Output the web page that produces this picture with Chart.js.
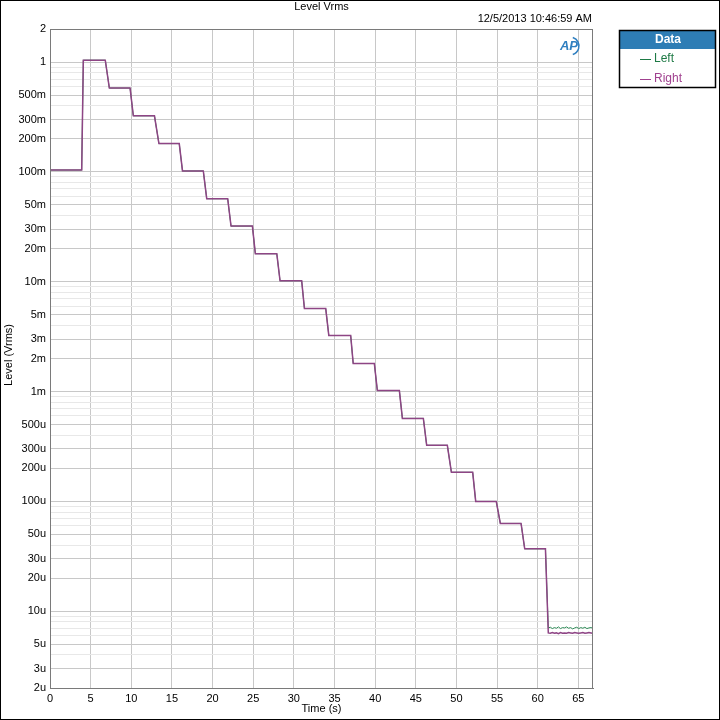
<!DOCTYPE html>
<html>
<head>
<meta charset="utf-8">
<style>
  html, body { margin: 0; padding: 0; background: #fff; }
  #wrap { width: 720px; height: 720px; }
</style>
<script src="https://cdn.jsdelivr.net/npm/chart.js@4.4.1/dist/chart.umd.min.js"></script>
</head>
<body>
<div id="wrap"><canvas id="levelChart" width="720" height="720"></canvas></div>
<script>
'use strict';

// step levels (Vrms)
var stepLevels = [0.104, 1.04, 0.58, 0.324, 0.181, 0.102, 0.057, 0.0321, 0.018, 0.0102,
  0.0057, 0.00324, 0.0018, 0.00102, 5.7e-4, 3.24e-4, 1.84e-4, 1.0e-4, 6.3e-5, 3.7e-5];
// time where each plateau ends, and where the next one is reached
var plateauEnd = [3.9, 6.8, 9.85, 12.85, 15.9, 18.86, 21.86, 24.9, 27.9, 30.96,
  33.92, 36.99, 39.9, 42.98, 45.93, 48.88, 52.0, 54.9, 57.95, 60.95];
var nextReached = [4.1, 7.3, 10.25, 13.4, 16.3, 19.28, 22.27, 25.26, 28.3, 31.3,
  34.3, 37.3, 40.27, 43.35, 46.34, 49.38, 52.37, 55.4, 58.4, 61.3];

// noise floor after the last step
var floorTimes = [61.3, 61.55, 61.8, 62.05, 62.3, 62.55, 62.8, 63.05, 63.3, 63.55, 63.8,
  64.05, 64.3, 64.55, 64.8, 65.05, 65.3, 65.55, 65.8, 66.05, 66.3, 66.55, 66.8];
var floorLeft = [7.05e-6, 7.15e-6, 6.95e-6, 7.1e-6, 7.0e-6, 7.2e-6, 6.95e-6, 7.1e-6, 7.05e-6, 7.2e-6, 7.0e-6,
  7.1e-6, 6.9e-6, 7.05e-6, 7.15e-6, 6.95e-6, 7.1e-6, 7.0e-6, 7.15e-6, 6.95e-6, 7.05e-6, 7.1e-6, 7.0e-6];
var floorRight = [6.35e-6, 6.3e-6, 6.4e-6, 6.3e-6, 6.35e-6, 6.25e-6, 6.4e-6, 6.3e-6, 6.35e-6, 6.3e-6, 6.4e-6,
  6.35e-6, 6.3e-6, 6.4e-6, 6.35e-6, 6.3e-6, 6.35e-6, 6.4e-6, 6.3e-6, 6.35e-6, 6.4e-6, 6.35e-6, 6.3e-6];

var majorTicks = [2, 1, 0.5, 0.3, 0.2, 0.1, 0.05, 0.03, 0.02, 0.01, 0.005, 0.003, 0.002, 0.001,
  5e-4, 3e-4, 2e-4, 1e-4, 5e-5, 3e-5, 2e-5, 1e-5, 5e-6, 3e-6, 2e-6];
var majorLabels = ['2', '1', '500m', '300m', '200m', '100m', '50m', '30m', '20m', '10m', '5m', '3m', '2m', '1m',
  '500u', '300u', '200u', '100u', '50u', '30u', '20u', '10u', '5u', '3u', '2u'];
var xTicks = [0, 5, 10, 15, 20, 25, 30, 35, 40, 45, 50, 55, 60, 65];

var FONT = '"Liberation Sans", Arial, sans-serif';

function buildSeries(floorValues) {
  var pts = [{x: 0, y: stepLevels[0]}];
  for (var i = 0; i < stepLevels.length; i++) {
    pts.push({x: plateauEnd[i], y: stepLevels[i]});
    var next = (i + 1 < stepLevels.length) ? stepLevels[i + 1] : floorValues[0];
    pts.push({x: nextReached[i], y: next});
  }
  for (var j = 1; j < floorTimes.length; j++) {
    pts.push({x: floorTimes[j], y: floorValues[j]});
  }
  return pts;
}

// all 1..9 multiples for the log grid
function logGridValues() {
  var vals = [];
  for (var e = -6; e <= 0; e++) {
    for (var m = 1; m <= 9; m++) {
      var v = parseFloat((m * Math.pow(10, e)).toPrecision(3));
      if (v >= 2e-6 && v <= 2) vals.push(v);
    }
  }
  return vals;
}

function isMajor(v) {
  for (var i = 0; i < majorTicks.length; i++) {
    if (Math.abs(v - majorTicks[i]) / majorTicks[i] < 1e-6) return i;
  }
  return -1;
}

var decorPlugin = {
  id: 'decor',
  afterDraw: function(chart) {
    var ctx = chart.ctx;
    var a = chart.chartArea;
    ctx.save();
    // plot frame
    ctx.strokeStyle = '#7a7a7a';
    ctx.lineWidth = 1;
    ctx.strokeRect(Math.round(a.left) + 0.5, Math.round(a.top) + 0.5,
      Math.round(a.right - a.left) - 1, Math.round(a.bottom - a.top));

    // title and timestamp
    ctx.fillStyle = '#000';
    ctx.font = '11px ' + FONT;
    ctx.textAlign = 'center';
    ctx.textBaseline = 'middle';
    ctx.fillText('Level Vrms', (a.left + a.right) / 2, 7);
    ctx.textAlign = 'right';
    ctx.fillText('12/5/2013 10:46:59 AM', 592, 19);

    // axis titles
    ctx.textAlign = 'center';
    ctx.fillText('Time (s)', (a.left + a.right) / 2, 709);
    ctx.save();
    ctx.translate(9, 355);
    ctx.rotate(-Math.PI / 2);
    ctx.fillText('Level (Vrms)', 0, 0);
    ctx.restore();

    // AP logo
    ctx.fillStyle = '#2f7fc0';
    ctx.font = 'italic bold 13px ' + FONT;
    ctx.textAlign = 'center';
    ctx.fillText('AP', 569, 46);
    ctx.strokeStyle = '#2f7fc0';
    ctx.lineWidth = 1.5;
    ctx.beginPath();
    ctx.arc(570, 46, 9, -Math.PI * 0.4, Math.PI * 0.4);
    ctx.stroke();

    // legend box
    var lx = 619, ly = 30, lw = 96, lh = 57;
    ctx.fillStyle = '#fff';
    ctx.fillRect(lx, ly, lw, lh);
    ctx.fillStyle = '#2e7db5';
    ctx.fillRect(lx, ly, lw, 19);
    ctx.strokeStyle = '#000';
    ctx.lineWidth = 1.5;
    ctx.strokeRect(lx + 0.5, ly + 0.5, lw, lh);
    ctx.fillStyle = '#fff';
    ctx.font = 'bold 12px ' + FONT;
    ctx.textAlign = 'center';
    ctx.fillText('Data', 668, 40);
    ctx.font = '12px ' + FONT;
    ctx.textAlign = 'left';
    var rows = [['Left', '#1e7a45', 58.5], ['Right', '#a0418f', 78.5]];
    rows.forEach(function(r) {
      ctx.strokeStyle = r[1];
      ctx.lineWidth = 1;
      ctx.beginPath();
      ctx.moveTo(640, Math.round(r[2]) + 0.5);
      ctx.lineTo(651, Math.round(r[2]) + 0.5);
      ctx.stroke();
      ctx.fillStyle = r[1];
      ctx.fillText(r[0], 654, r[2]);
    });

    // outer frame
    ctx.strokeStyle = '#000';
    ctx.lineWidth = 1;
    ctx.strokeRect(0.5, 0.5, 719, 719);
    ctx.restore();
  }
};

var ctx = document.getElementById('levelChart').getContext('2d');
var levelChart = new Chart(ctx, { //eslint-disable-line
  type: 'line',
  data: {
    datasets: [
      {
        label: 'Left',
        data: buildSeries(floorLeft),
        borderColor: '#2e8b57',
        borderWidth: 1,
        pointRadius: 0,
        tension: 0,
        order: 1
      },
      {
        label: 'Right',
        data: buildSeries(floorRight),
        borderColor: '#8e4585',
        borderWidth: 1.5,
        pointRadius: 0,
        tension: 0,
        order: 0
      }
    ]
  },
  options: {
    responsive: false,
    animation: false,
    events: [],
    layout: { padding: { top: 29, right: 127, left: 0, bottom: 0 } },
    plugins: {
      legend: { display: false },
      title: { display: false },
      tooltip: { enabled: false }
    },
    scales: {
      x: {
        type: 'linear',
        min: 0,
        max: 66.8,
        afterBuildTicks: function(scale) {
          scale.ticks = xTicks.map(function(v) { return {value: v}; });
        },
        afterFit: function(scale) { scale.height = 32; },
        grid: { color: '#c8c8c8', drawTicks: false, lineWidth: 1 },
        border: { color: '#7a7a7a' },
        ticks: {
          autoSkip: false,
          maxRotation: 0,
          padding: 4,
          color: '#000',
          font: { family: FONT, size: 11 },
          callback: function(v) { return String(v); }
        }
      },
      y: {
        type: 'logarithmic',
        min: 2e-6,
        max: 2,
        afterBuildTicks: function(scale) {
          scale.ticks = logGridValues().map(function(v) { return {value: v}; });
        },
        afterFit: function(scale) { scale.width = 50; },
        grid: {
          drawTicks: false,
          lineWidth: 1,
          color: function(c) {
            if (!c.tick) return '#e6e6e6';
            return isMajor(c.tick.value) >= 0 ? '#c8c8c8' : '#e8e8e8';
          }
        },
        border: { color: '#7a7a7a' },
        ticks: {
          autoSkip: false,
          padding: 4,
          color: '#000',
          font: { family: FONT, size: 11 },
          callback: function(v) {
            var k = isMajor(v);
            return k >= 0 ? majorLabels[k] : '';
          }
        }
      }
    }
  },
  plugins: [decorPlugin]
});
</script>
</body>
</html>
